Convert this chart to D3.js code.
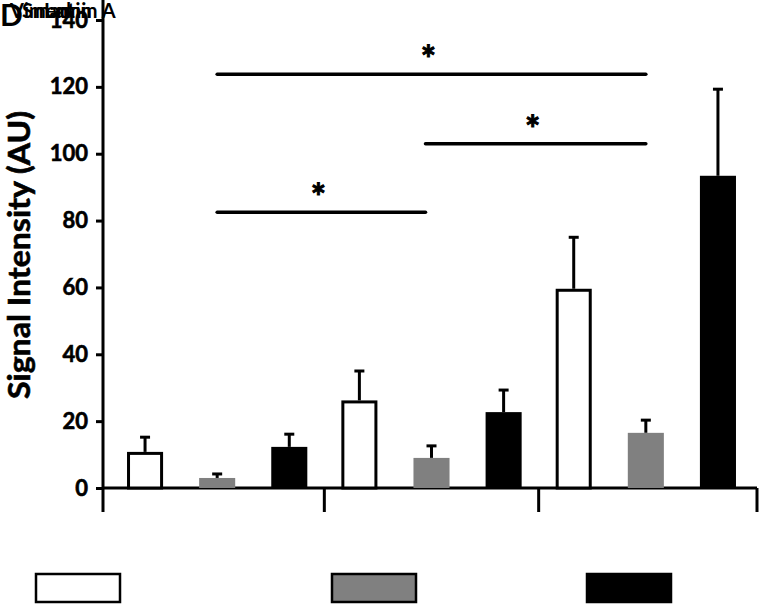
<!DOCTYPE html>
<html>
<head>
<meta charset="utf-8">
<script src="https://cdn.jsdelivr.net/npm/d3@7"></script>
<style>
  body { margin: 0; background: #fff; }
  svg { display: block; }
  text { font-family: Lato, "Open Sans", sans-serif; font-weight: bold; }
</style>
</head>
<body>
<svg id="chart" width="764" height="605"></svg>
<script>
// ---- data ----
const groups = ["G1", "G2", "G3"];
const seriesNames = ["Vimentin", "Smad", "Lamin A"];
const seriesFill = ["#ffffff", "#808080", "#000000"];
const means = [
  [10.8, 3.0, 12.3],
  [26.2, 9.0, 22.7],
  [59.6, 16.5, 93.4]
];
const errors = [
  [4.4, 1.2, 3.8],
  [8.8, 3.6, 6.6],
  [15.4, 3.8, 25.9]
];
const yTicks = [0, 20, 40, 60, 80, 100, 120, 140];
// significance brackets: [group index a, group index b, height value]
const sigs = [
  { a: 0, b: 2, y: 123.8, label: "*" },
  { a: 1, b: 2, y: 103.0, label: "*" },
  { a: 0, b: 1, y: 82.5, label: "*" }
];

const svg = d3.select("#chart");

const y = d3.scaleLinear().domain([0, 140]).range([488, 20]);
const xg = d3.scaleBand().domain(groups).range([110, 753]);
const xs = d3.scaleBand().domain(d3.range(3)).range([0, xg.bandwidth()])
  .paddingInner(0.5).paddingOuter(0.236);

// y axis
const yAxis = svg.append("g").attr("transform", "translate(103,0)")
  .call(d3.axisLeft(y).tickValues(yTicks).tickSize(7).tickPadding(8));
yAxis.select(".domain").remove();
yAxis.selectAll(".tick line").attr("stroke", "#000").attr("stroke-width", 3);
yAxis.selectAll(".tick text").attr("font-size", 22).attr("fill", "#000")
  .attr("stroke", "#000").attr("stroke-width", 0.6)
  .style("font-family", "Lato, sans-serif").style("font-weight", "bold");
svg.append("line").attr("x1", 103).attr("x2", 103).attr("y1", 0).attr("y2", 512)
  .attr("stroke", "#000").attr("stroke-width", 3);

// x axis line and group ticks
svg.append("line").attr("x1", 103).attr("x2", 757).attr("y1", y(0)).attr("y2", y(0))
  .attr("stroke", "#000").attr("stroke-width", 3);
const bounds = groups.slice(1).map(g => xg(g)).concat([757]);
svg.selectAll(".gtick").data(bounds).enter().append("line")
  .attr("x1", d => d).attr("x2", d => d).attr("y1", y(0)).attr("y2", 512)
  .attr("stroke", "#000").attr("stroke-width", 3);

// bars
const flat = [];
groups.forEach((g, gi) => {
  means[gi].forEach((v, si) => flat.push({ g, gi, si, v, e: errors[gi][si] }));
});
const bx = d => xg(d.g) + xs(d.si);

// error bars
svg.selectAll(".err").data(flat).enter().append("line")
  .attr("x1", d => bx(d) + xs.bandwidth() / 2).attr("x2", d => bx(d) + xs.bandwidth() / 2)
  .attr("y1", d => y(d.v)).attr("y2", d => y(d.v + d.e))
  .attr("stroke", "#000").attr("stroke-width", 3);
svg.selectAll(".cap").data(flat).enter().append("line")
  .attr("x1", d => bx(d) + xs.bandwidth() / 2 - 5).attr("x2", d => bx(d) + xs.bandwidth() / 2 + 5)
  .attr("y1", d => y(d.v + d.e)).attr("y2", d => y(d.v + d.e))
  .attr("stroke", "#000").attr("stroke-width", 3);

svg.selectAll(".bar").data(flat).enter().append("rect")
  .attr("x", d => bx(d) + (d.si === 0 ? 1.5 : 0))
  .attr("width", d => xs.bandwidth() - (d.si === 0 ? 3 : 0))
  .attr("y", d => y(d.v) + (d.si === 0 ? 1.5 : 0))
  .attr("height", d => y(0) - y(d.v) - (d.si === 0 ? 1.5 : 0))
  .attr("fill", d => seriesFill[d.si])
  .attr("stroke", d => d.si === 0 ? "#000" : "none")
  .attr("stroke-width", 3);

// significance lines
const sigData = sigs.map(s => {
  let x1 = xg(groups[s.a]) + xs(1) + xs.bandwidth() / 2;
  let x2 = xg(groups[s.b]) + xs(1) + xs.bandwidth() / 2;
  if (s.a === 1) x1 -= 6;
  if (s.b === 1) x2 -= 6;
  return { x1, x2, y: y(s.y), label: s.label };
});
svg.selectAll(".sig").data(sigData).enter().append("line")
  .attr("x1", d => d.x1).attr("x2", d => d.x2).attr("y1", d => d.y).attr("y2", d => d.y)
  .attr("stroke", "#000").attr("stroke-width", 3.5).attr("stroke-linecap", "round");
svg.selectAll(".sigt").data(sigData).enter().append("text")
  .attr("x", d => (d.x1 + d.x2) / 2 - 3).attr("y", d => d.y - 2)
  .attr("text-anchor", "middle").attr("font-size", 36).attr("fill", "#000")
  .attr("stroke", "#000").attr("stroke-width", 1)
  .text(d => d.label);

// y axis title
svg.append("text")
  .attr("transform", "translate(30,255) rotate(-90)")
  .attr("text-anchor", "middle").attr("font-size", 30).attr("fill", "#000")
  .attr("stroke", "#000").attr("stroke-width", 0.6)
  .attr("textLength", 288).attr("lengthAdjust", "spacingAndGlyphs")
  .text("Signal Intensity (AU)");

// legend boxes
const legX = [36, 332, 587];
svg.selectAll(".leg").data(seriesNames).enter().append("rect")
  .attr("x", (d, i) => legX[i]).attr("y", 574).attr("width", 84).attr("height", 28)
  .attr("fill", (d, i) => seriesFill[i]).attr("stroke", "#000").attr("stroke-width", 2.5);

// panel letter and overlapping labels (as in the reference)
svg.append("text").attr("x", 0).attr("y", 26).attr("font-size", 30).attr("fill", "#000").text("D");
const lblX = [10, 22, 44];
svg.selectAll(".lbl").data(seriesNames).enter().append("text")
  .attr("x", (d, i) => lblX[i]).attr("y", 18).attr("font-size", 20).attr("fill", "#000")
  .text(d => d);
</script>
</body>
</html>
